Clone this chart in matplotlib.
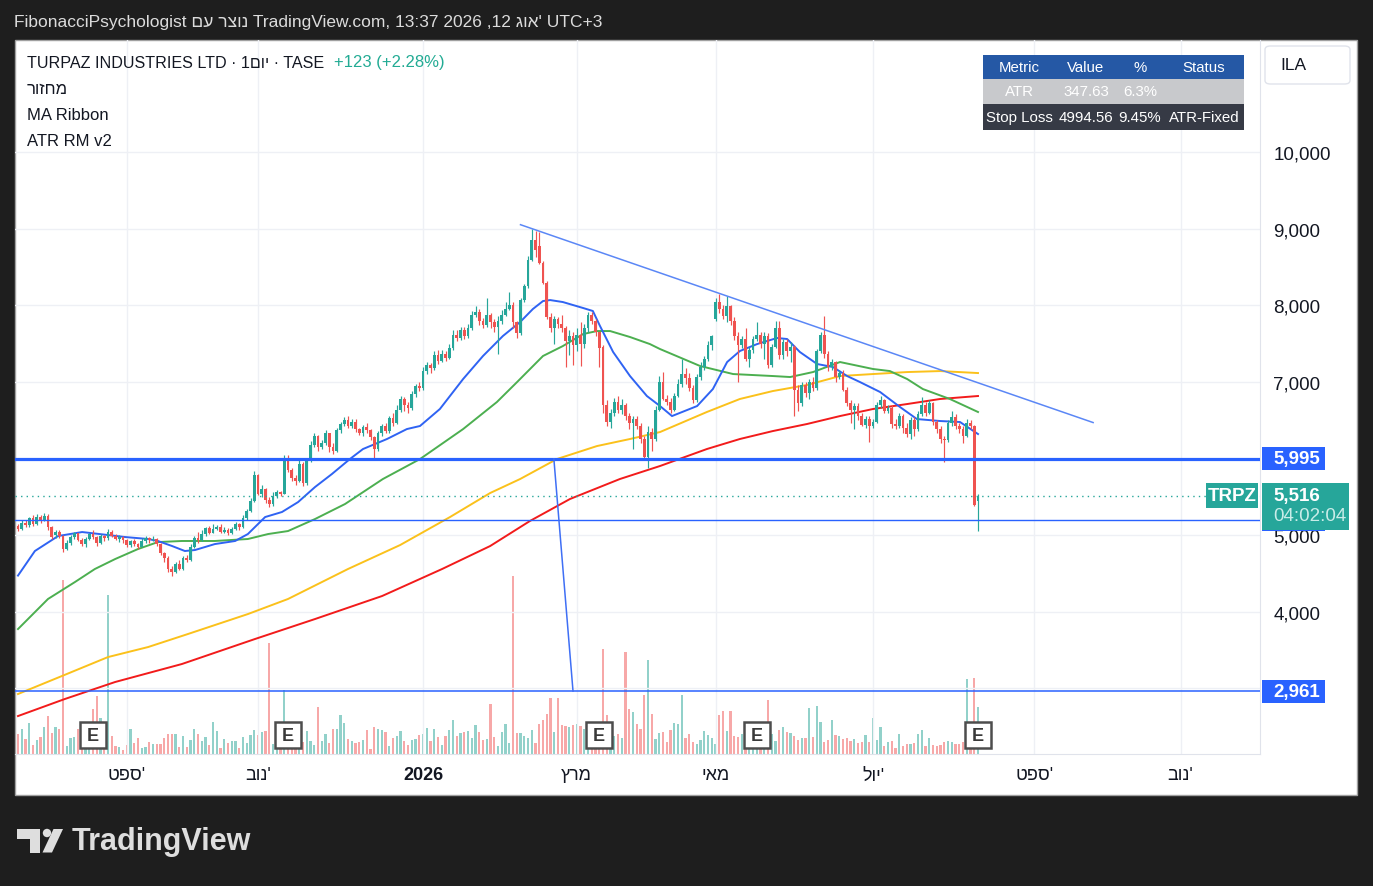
import matplotlib.pyplot as plt
from matplotlib.patches import Rectangle, FancyBboxPatch, Polygon, Ellipse
from matplotlib.transforms import blended_transform_factory

plt.rcParams['font.family'] = ['Liberation Sans', 'DejaVu Sans']

W, H = 1373, 887

# daily candles, TRPZ (agorot)
opens = [
    5120, 5080, 5160, 5130, 5220, 5150, 5240, 5200, 5250, 5100,
    5000, 5040, 4990, 4820, 4900, 4980, 5020, 4940, 4880, 4950,
    5010, 4970, 4900, 4990, 4960, 5040, 4990, 4950, 4980, 4930,
    4870, 4920, 4880, 4850, 4920, 4960, 4930, 4950, 4880, 4760,
    4700, 4560, 4520, 4620, 4560, 4700, 4680, 4850, 4960, 4930,
    5010, 5090, 5030, 5080, 5100, 5040, 5070, 5020, 5080, 5140,
    5100, 5220, 5310, 5450, 5780, 5540, 5600, 5460, 5400, 5510,
    5560, 5540, 6000, 5850, 5740, 5700, 5930, 5680, 5980, 6180,
    6290, 6150, 6200, 6330, 6150, 6100, 6370, 6450, 6500, 6430,
    6480, 6380, 6340, 6410, 6370, 6280, 6130, 6330, 6420, 6360,
    6530, 6470, 6640, 6780, 6700, 6660, 6840, 6950, 6920, 7150,
    7220, 7180, 7350, 7280, 7360, 7320, 7450, 7620, 7580, 7680,
    7600, 7700, 7880, 7920, 7800, 7740, 7880, 7780, 7720, 7800,
    7880, 7960, 8000, 7780, 7640, 8070, 8250, 8600, 8850, 8780,
    8560, 8300, 7850, 7700, 7820, 7760, 7700, 7540, 7600, 7480,
    7620, 7500, 7700, 7880, 7800, 7650, 7460, 6700, 6480, 6600,
    6740, 6640, 6700, 6550, 6460, 6520, 6420, 6260, 6020, 6350,
    6250, 6640, 7000, 6780, 6740, 6640, 6820, 6980, 7100, 7050,
    6920, 6760, 7060, 7200, 7300, 7480, 7820, 8040, 7960, 7860,
    7990, 7800, 7600, 7480, 7560, 7300, 7420, 7560, 7620, 7500,
    7600, 7220, 7460, 7700, 7350, 7520, 7400, 7460, 6900, 6720,
    6960, 6850, 7000, 6920, 7400, 7620, 7360, 7200, 7260, 7060,
    7120, 6900, 6720, 6640, 6680, 6560, 6440, 6520, 6420, 6480,
    6700, 6760, 6620, 6660, 6450, 6420, 6560, 6400, 6320, 6500,
    6380, 6580, 6700, 6600, 6720, 6480, 6380, 6260, 6240, 6460,
    6540, 6420, 6380, 6300, 6460, 6420, 5440,
]
highs = [
    5150, 5190, 5200, 5240, 5260, 5280, 5260, 5290, 5270, 5120,
    5070, 5060, 5000, 4930, 5000, 5040, 5030, 4960, 4980, 5030,
    5060, 4990, 5010, 5000, 5080, 5060, 5010, 5000, 4990, 4950,
    4940, 4950, 4900, 4960, 4990, 4980, 4990, 4960, 4900, 4780,
    4720, 4600, 4650, 4680, 4730, 4740, 4880, 4990, 5040, 5060,
    5110, 5120, 5140, 5130, 5150, 5100, 5090, 5110, 5170, 5160,
    5260, 5340, 5480, 5840, 5800, 5650, 5620, 5500, 5560, 5590,
    5580, 6040, 6040, 5870, 5780, 5980, 5950, 6010, 6230, 6330,
    6310, 6240, 6370, 6340, 6200, 6400, 6480, 6540, 6560, 6520,
    6520, 6400, 6440, 6470, 6390, 6300, 6360, 6450, 6460, 6560,
    6590, 6700, 6820, 6800, 6740, 6880, 6980, 7000, 7200, 7260,
    7250, 7400, 7420, 7420, 7400, 7500, 7680, 7680, 7720, 7720,
    7760, 7930, 7990, 7960, 7840, 8100, 7900, 7820, 7860, 7940,
    8040, 8170, 8040, 7800, 8100, 8280, 8650, 9000, 8980, 8960,
    8580, 8320, 7900, 7860, 7850, 7870, 7730, 7680, 7650, 7700,
    7780, 7760, 7920, 7920, 7820, 7660, 7480, 6760, 6650, 6790,
    6820, 6780, 6730, 6600, 6560, 6560, 6460, 6300, 6420, 6400,
    6680, 7080, 7130, 6830, 6790, 6860, 7040, 7300, 7180, 7120,
    6960, 7100, 7260, 7340, 7530, 7620, 8100, 8150, 8000, 8130,
    8000, 7850, 7650, 7600, 7700, 7460, 7600, 7780, 7660, 7650,
    7640, 7500, 7800, 7800, 7560, 7560, 7520, 7480, 6960, 7000,
    7000, 7040, 7060, 7430, 7650, 7860, 7400, 7300, 7280, 7160,
    7160, 6940, 6760, 6720, 6720, 6600, 6560, 6560, 6520, 6740,
    6820, 6780, 6700, 6700, 6520, 6600, 6580, 6460, 6540, 6540,
    6620, 6800, 6740, 6760, 6740, 6500, 6420, 6300, 6500, 6620,
    6580, 6460, 6420, 6520, 6500, 6440, 5530,
]
lows = [
    5050, 5060, 5100, 5110, 5120, 5130, 5160, 5180, 5060, 4950,
    4960, 4960, 4780, 4800, 4870, 4950, 4920, 4860, 4850, 4930,
    4950, 4860, 4880, 4920, 4940, 4970, 4930, 4910, 4890, 4840,
    4850, 4860, 4820, 4840, 4900, 4900, 4920, 4860, 4740, 4650,
    4520, 4460, 4500, 4540, 4540, 4650, 4660, 4830, 4900, 4920,
    4990, 5010, 5020, 5060, 5020, 5030, 5000, 5010, 5060, 5070,
    5090, 5200, 5300, 5430, 5520, 5500, 5420, 5370, 5380, 5490,
    5510, 5530, 5820, 5700, 5660, 5690, 5640, 5660, 5960, 6150,
    6100, 6120, 6180, 6090, 6060, 6090, 6340, 6420, 6400, 6400,
    6350, 6310, 6300, 6340, 6240, 5990, 6100, 6300, 6330, 6340,
    6430, 6450, 6610, 6620, 6600, 6640, 6800, 6880, 6900, 7100,
    7120, 7160, 7240, 7260, 7280, 7300, 7420, 7540, 7550, 7560,
    7580, 7680, 7850, 7740, 7700, 7720, 7700, 7650, 7370, 7760,
    7860, 7940, 7700, 7580, 7620, 8040, 8230, 8580, 8640, 8540,
    8280, 7820, 7650, 7500, 7700, 7650, 7200, 7350, 7220, 7400,
    7210, 7450, 7650, 7760, 7600, 7200, 6600, 6420, 6400, 6560,
    6600, 6580, 6500, 6380, 6120, 6380, 6200, 5980, 5880, 6100,
    6230, 6620, 6760, 6700, 6600, 6620, 6800, 6940, 6980, 6880,
    6720, 6740, 7020, 7160, 7280, 7420, 7800, 7900, 7820, 7780,
    7750, 7550, 7000, 7440, 7280, 7200, 7380, 7530, 7440, 7300,
    7180, 7200, 7440, 7300, 7300, 7340, 7260, 6560, 6620, 6690,
    6800, 6780, 6880, 6900, 7380, 7320, 7140, 7160, 7000, 7040,
    6880, 6680, 6460, 6380, 6500, 6420, 6400, 6220, 6400, 6460,
    6660, 6600, 6600, 6400, 6380, 6400, 6340, 6280, 6260, 6300,
    6360, 6560, 6560, 6580, 6440, 6340, 6200, 5950, 6220, 6430,
    6380, 6340, 6200, 6280, 6380, 5380, 5050,
]
closes = [
    5080, 5160, 5130, 5220, 5150, 5240, 5200, 5250, 5100, 4980,
    5040, 4990, 4820, 4900, 4980, 5020, 4940, 4880, 4950, 5010,
    4970, 4900, 4990, 4960, 5040, 4990, 4950, 4980, 4930, 4870,
    4920, 4880, 4850, 4920, 4960, 4930, 4950, 4880, 4760, 4700,
    4560, 4520, 4620, 4560, 4700, 4680, 4850, 4960, 4930, 5010,
    5090, 5030, 5080, 5100, 5040, 5070, 5020, 5080, 5140, 5100,
    5220, 5310, 5450, 5780, 5540, 5600, 5460, 5400, 5510, 5560,
    5540, 6000, 5850, 5740, 5700, 5930, 5680, 5980, 6180, 6290,
    6150, 6200, 6330, 6150, 6100, 6370, 6450, 6500, 6430, 6480,
    6380, 6340, 6410, 6370, 6280, 6130, 6330, 6420, 6360, 6530,
    6470, 6640, 6780, 6700, 6660, 6840, 6950, 6920, 7150, 7220,
    7180, 7350, 7280, 7360, 7320, 7450, 7620, 7580, 7680, 7600,
    7700, 7880, 7920, 7800, 7740, 7880, 7780, 7720, 7800, 7880,
    7960, 8000, 7780, 7640, 8070, 8250, 8600, 8850, 8720, 8560,
    8300, 7850, 7700, 7820, 7760, 7700, 7540, 7600, 7480, 7620,
    7500, 7700, 7880, 7800, 7650, 7440, 6700, 6480, 6600, 6740,
    6640, 6700, 6550, 6460, 6520, 6420, 6260, 6020, 6350, 6250,
    6640, 7000, 6780, 6740, 6640, 6820, 6980, 7100, 7050, 6920,
    6760, 7060, 7200, 7300, 7480, 7600, 8040, 7960, 7860, 7990,
    7800, 7600, 7480, 7560, 7300, 7420, 7560, 7620, 7500, 7600,
    7220, 7460, 7700, 7350, 7520, 7400, 7460, 6900, 6720, 6960,
    6850, 7000, 6920, 7400, 7620, 7360, 7200, 7260, 7060, 7120,
    6900, 6720, 6640, 6680, 6560, 6440, 6520, 6420, 6480, 6700,
    6760, 6620, 6660, 6450, 6420, 6560, 6400, 6320, 6500, 6380,
    6580, 6700, 6600, 6720, 6480, 6380, 6260, 6240, 6460, 6540,
    6420, 6380, 6300, 6460, 6420, 5393, 5516,
]
volume = [
    20, 25, 15, 31, 9, 14, 17, 27, 38, 21,
    27, 25, 174, 8, 16, 17, 25, 22, 18, 20,
    45, 58, 36, 20, 159, 18, 8, 7, 4, 9,
    25, 11, 16, 6, 7, 12, 10, 10, 10, 16,
    20, 20, 20, 7, 18, 7, 14, 25, 20, 13,
    17, 9, 32, 23, 6, 15, 11, 13, 13, 6,
    17, 11, 19, 24, 19, 22, 23, 111, 10, 20,
    18, 64, 25, 22, 15, 18, 12, 23, 13, 9,
    47, 13, 20, 11, 25, 25, 39, 31, 15, 13,
    11, 12, 14, 24, 5, 27, 25, 24, 22, 8,
    16, 18, 23, 13, 9, 14, 15, 19, 20, 26,
    13, 25, 17, 9, 18, 24, 34, 18, 21, 22,
    23, 16, 29, 22, 14, 15, 50, 17, 8, 22,
    30, 11, 178, 21, 21, 18, 16, 24, 11, 30,
    34, 40, 56, 22, 56, 29, 28, 27, 29, 30,
    28, 25, 20, 22, 18, 25, 105, 39, 20, 18,
    20, 16, 102, 45, 42, 30, 25, 59, 94, 40,
    15, 21, 22, 12, 24, 31, 30, 59, 16, 20,
    12, 10, 14, 23, 19, 16, 10, 39, 43, 23,
    43, 18, 17, 20, 18, 20, 16, 22, 15, 18,
    54, 20, 13, 24, 27, 22, 21, 18, 14, 16,
    16, 46, 17, 48, 32, 12, 14, 34, 19, 18,
    15, 16, 13, 15, 11, 12, 19, 12, 36, 14,
    27, 8, 12, 13, 6, 20, 8, 10, 10, 11,
    20, 24, 8, 16, 9, 8, 9, 12, 13, 12,
    10, 10, 12, 75, 15, 76, 47,
]

# MA ribbon as (bar, price)
ma20 = [(0, 4470), (4.5, 4791), (10.7, 4987), (17.1, 5039), (24, 5000), (28.5, 4974),
        (34.7, 4948), (37.3, 4922), (41.1, 4856), (44.5, 4791), (47.2, 4804), (52.5, 4882),
        (57.9, 4922), (61.3, 5013), (65.9, 5235), (70.4, 5301), (74.7, 5431), (79.2, 5627),
        (83.7, 5797), (88.5, 5993), (92, 6124), (98.4, 6255), (103.7, 6385), (107.2, 6425),
        (112.5, 6647), (118.7, 7039), (124, 7340), (129.3, 7601), (133.9, 7784), (137.3, 7954),
        (140, 8058), (141.9, 8071), (145.3, 8045), (150.7, 7967), (153.3, 7928), (155.2, 7732),
        (158.7, 7392), (163.2, 7078), (167.7, 6817), (171.2, 6686), (174.4, 6555), (181.1, 6686),
        (185.3, 6908), (189.1, 7261), (192.5, 7405), (197.1, 7496), (202.4, 7575), (205.1, 7562),
        (208.5, 7392), (213.1, 7235), (217.3, 7196), (221.1, 7078), (224.5, 7000), (229.9, 6869),
        (235.2, 6673), (239.7, 6516), (245.9, 6490), (251.2, 6477), (256, 6320)]
ma50 = [(0, 3771), (8, 4164), (15.2, 4386), (20.5, 4556), (25.9, 4686), (32, 4817),
        (37.3, 4908), (43.7, 4922), (52.5, 4922), (61.3, 4948), (66.7, 5013), (72, 5052),
        (79.2, 5209), (87.2, 5405), (97.3, 5732), (107.2, 5993), (118.7, 6385), (127.7, 6738),
        (133.1, 7000), (140, 7340), (145.3, 7470), (150.7, 7627), (154.4, 7666), (157.9, 7666),
        (163.2, 7588), (168.5, 7496), (171.2, 7431), (181.9, 7209), (190.7, 7104), (201.3, 7078),
        (205.9, 7065), (212, 7130), (219.2, 7261), (228, 7170), (232.5, 7143), (237.1, 7039),
        (241.3, 6908), (248.5, 6778), (256, 6608)]
ma100 = [(0, 2922), (11.7, 3157), (24, 3405), (34.7, 3536), (45.3, 3706), (61.3, 3967),
         (72, 4164), (88, 4556), (101.9, 4869), (115.2, 5235), (125.9, 5549), (133.9, 5732),
         (143.7, 5993), (154.4, 6163), (163.2, 6255), (171.2, 6346), (183.7, 6608), (192.5, 6778),
         (201.3, 6882), (210.4, 6961), (219.2, 7078), (228, 7104), (237.1, 7130), (245.9, 7143),
         (256, 7117)]
ma200 = [(0, 2634), (12.5, 2857), (25.9, 3079), (43.7, 3314), (63.2, 3641), (79.2, 3902),
         (97.1, 4203), (113.1, 4556), (125.9, 4856), (136.5, 5183), (147.2, 5471), (160.5, 5732),
         (171.2, 5902), (183.7, 6124), (192.5, 6255), (201.3, 6359), (210.4, 6451), (219.2, 6555),
         (228, 6647), (237.1, 6712), (245.9, 6778), (256, 6817)]

# drawings
level_main = 5995
level_low = 2961
level_mid = 5198
last_price = 5516
trend_bars = [134, 286.7]
trend_prices = [9056, 6470]
drop_bars = [142.9, 148]
drop_prices = [5995, 2961]
earn_bars = [20, 72, 155, 197, 256]

price_ticks = [3000, 4000, 5000, 6000, 7000, 8000, 9000, 10000]


def rtl(s):
    return s[::-1]


month_bars = [29, 64, 108, 149, 186, 228, 271, 310]
month_labels = [rtl('ספט') + "'", rtl('נוב') + "'", '2026', rtl('מרץ'),
                rtl('מאי'), rtl('יול') + "'", rtl('ספט') + "'", rtl('נוב') + "'"]

table_header = ['Metric', 'Value', '%', 'Status']
table_rows = [['ATR', '347.63', '6.3%', ''],
              ['Stop Loss', '4994.56', '9.45%', 'ATR-Fixed']]

UP, DN = '#26a69a', '#ef5350'
TXT = '#131722'

fig = plt.figure(figsize=(W / 100, H / 100), dpi=100, facecolor='#1e1e1e')


def fx(x):
    return x / W


def fy(y):
    return 1 - y / H


fig.patches.append(Rectangle((fx(15), fy(796)), (1357 - 15) / W, (796 - 41) / H,
                             transform=fig.transFigure, fc='white', ec='#a0a0a0',
                             lw=1, zorder=-5))

rect = [fx(15), fy(755), 1245 / W, 714 / H]
n = min(len(opens), len(highs), len(lows), len(closes), len(volume))
bars = list(range(n))
up = [closes[i] >= opens[i] for i in bars]
xlim = (-0.8, 331.2)

# volume pane (behind prices)
axv = fig.add_axes(rect)
axv.bar(bars, volume[:n], width=0.58, linewidth=0,
        color=['#92d1ca' if u else '#f7a8a8' for u in up])
axv.set_xlim(*xlim)
axv.set_ylim(0, max(volume) * 4.0)
axv.axis('off')

ax = fig.add_axes(rect)
ax.patch.set_alpha(0)
ax.set_xlim(*xlim)
ax.set_ylim(2138, 11470)
ax.set_axisbelow(True)
ax.grid(True, color='#eef0f5', lw=1)

for s in ['top', 'left']:
    ax.spines[s].set_visible(False)
for s in ['right', 'bottom']:
    ax.spines[s].set_color('#e0e3eb')

ax.yaxis.tick_right()
ax.set_yticks(price_ticks)
ax.set_yticklabels([f'{v:,}' for v in price_ticks])
ax.tick_params(axis='y', length=0, pad=9.5, labelsize=13.5, labelcolor=TXT)
ax.set_xticks(month_bars)
ax.set_xticklabels(month_labels)
ax.tick_params(axis='x', length=0, pad=9, labelsize=13, labelcolor=TXT)
for lab in ax.get_xticklabels():
    if lab.get_text() == '2026':
        lab.set_fontweight('bold')

# moving averages
for pts, col in [(ma200, '#f21b1b'), (ma100, '#fbc11b'), (ma50, '#4caf50'), (ma20, '#2f63f3')]:
    ax.plot([p[0] for p in pts], [p[1] for p in pts], color=col, lw=1.4, zorder=2)

# candles
ccol = [UP if u else DN for u in up]
ax.vlines(bars, lows[:n], highs[:n], colors=ccol, lw=0.85, zorder=3)
ax.bar(bars, [max(abs(closes[i] - opens[i]), 14) for i in bars],
       bottom=[min(opens[i], closes[i]) for i in bars],
       width=0.72, color=ccol, linewidth=0, zorder=3)

# drawings
ax.axhline(level_main, color='#2962ff', lw=2.3, zorder=4)
ax.axhline(level_low, color='#2962ff', lw=1.1, zorder=4)
ax.axhline(level_mid, color='#2962ff', lw=1.0, zorder=4)
ax.axhline(last_price, color=UP, lw=1, ls=(0, (1, 3)), zorder=4)
ax.plot(trend_bars, trend_prices, color='#5b87f6', lw=1.1, zorder=4)
ax.plot(drop_bars, drop_prices, color='#3f6ff5', lw=1.1, zorder=4)

# earnings markers
tr_xa = blended_transform_factory(ax.transData, ax.transAxes)
ax.plot(earn_bars, [0.0266] * len(earn_bars), transform=tr_xa, ls='none', marker='s',
        ms=18.5, mfc='white', mec='#4d4d4d', mew=1.8, zorder=6, clip_on=False)
for b in earn_bars:
    ax.text(b, 0.0266, 'E', transform=tr_xa, ha='center', va='center',
            fontsize=13, color='#3a3a3a', fontweight='bold', zorder=7)

# price-scale tags
tr_ay = blended_transform_factory(ax.transAxes, ax.transData)
y0, y1 = ax.get_ylim()
ppx = (y1 - y0) / 714


def axx(px):
    return (px - 15) / 1245


def tag_box(price, left, right, top_px, bot_px, fc, z):
    ax.add_patch(Rectangle((axx(left), price - bot_px * ppx), axx(right) - axx(left),
                           (top_px + bot_px) * ppx, transform=tr_ay, fc=fc, ec='none',
                           clip_on=False, zorder=z))


def tag_text(px, price, s, color='white', z=12, ha='left', weight='bold'):
    ax.text(axx(px), price, s, transform=tr_ay, ha=ha, va='center', fontsize=13.5,
            color=color, fontweight=weight, zorder=z, clip_on=False)


tag_box(level_main, 1262, 1325, 11.5, 11.5, '#2962ff', 8)
tag_text(1273, level_main, f'{level_main:,}')
tag_box(level_low, 1262, 1325, 11.5, 11.5, '#2962ff', 8)
tag_text(1273, level_low, f'{level_low:,}')
tag_box(level_mid, 1262, 1325, 11.5, 11.5, '#2962ff', 8)
tag_box(last_price, 1262, 1349, 13, 34, UP, 10)
tag_text(1273, last_price, f'{last_price:,}')
tag_text(1273, last_price - 20 * ppx, '04:02:04', color='#c9ece8', weight='normal')
tag_box(last_price, 1206, 1258, 12.5, 12.5, UP, 10)
tag_text(1232, last_price, 'TRPZ', ha='center')

# header and legend
fig.text(fx(14), fy(22), 'FibonacciPsychologist ' + rtl('נוצר עם') +
         ' TradingView.com, 13:37 2026 ,12 ' + rtl('אוג') + "' UTC+3",
         color='#dcdcdc', fontsize=12.5, va='center')
fig.text(fx(27), fy(63), 'TURPAZ INDUSTRIES LTD · 1' + rtl('יום') + ' · TASE',
         color=TXT, fontsize=11.6, va='center')
fig.text(fx(334), fy(63), '+123 (+2.28%)', color='#22ab94', fontsize=12, va='center')
for yy, s in [(89, rtl('מחזור')), (115, 'MA Ribbon'), (141, 'ATR RM v2')]:
    fig.text(fx(27), fy(yy), s, color=TXT, fontsize=12, va='center')

# currency box
fig.patches.append(FancyBboxPatch((fx(1265), fy(85)), 85 / W, 38 / H,
                                  boxstyle='round,pad=0,rounding_size=0.004',
                                  transform=fig.transFigure, fc='white', ec='#e0e3eb', lw=1))
fig.text(fx(1280), fy(66), 'ILA', color=TXT, fontsize=12.5, va='center')

# ATR table
col_edges = [983, 1054, 1118, 1163, 1244]
col_centers = [1019, 1086, 1140, 1204]
row_edges = [56, 80, 105, 131]
row_fill = ['#2558a5', '#c8c9cc', '#363a45']
rows = [table_header] + table_rows
for r, cells in enumerate(rows):
    fig.patches.append(Rectangle((fx(col_edges[0]), fy(row_edges[r + 1])),
                                 (col_edges[-1] - col_edges[0]) / W,
                                 (row_edges[r + 1] - row_edges[r]) / H,
                                 transform=fig.transFigure, fc=row_fill[r], ec='none'))
    yc = (row_edges[r] + row_edges[r + 1]) / 2
    for c, s in enumerate(cells):
        fig.text(fx(col_centers[c]), fy(yc), s, color='white', fontsize=10.8,
                 ha='center', va='center')

# TradingView watermark
logo = '#dedede'
fig.patches.append(Polygon([(fx(17), fy(830)), (fx(39.5), fy(830)), (fx(39.5), fy(853.5)),
                            (fx(30), fy(853.5)), (fx(30), fy(839.5)), (fx(17), fy(839.5))],
                           closed=True, transform=fig.transFigure, fc=logo, ec='none'))
fig.patches.append(Ellipse((fx(47), fy(834)), 8.4 / W, 8.4 / H,
                           transform=fig.transFigure, fc=logo, ec='none'))
fig.patches.append(Polygon([(fx(53.5), fy(830)), (fx(63), fy(830)), (fx(52), fy(853.5)),
                            (fx(42.5), fy(853.5))],
                           closed=True, transform=fig.transFigure, fc=logo, ec='none'))
fig.text(fx(72), fy(842), 'TradingView', color=logo, fontsize=22, fontweight='bold',
         va='center')

fig.savefig('out.png', dpi=100, facecolor=fig.get_facecolor())
